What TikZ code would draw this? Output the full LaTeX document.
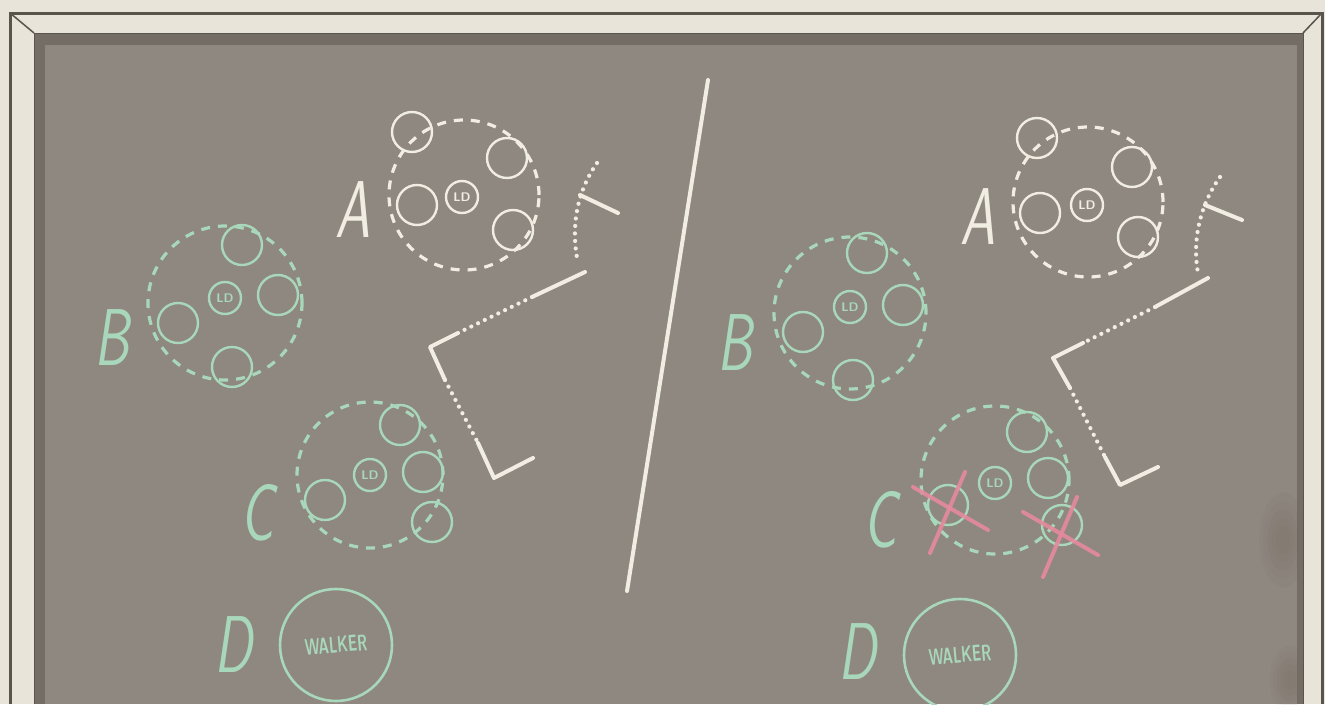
\documentclass[tikz,border=0pt]{standalone}
\usepackage{graphicx}
\usetikzlibrary{calc}
\definecolor{cream}{HTML}{E9E4DA}
\definecolor{framedark}{HTML}{59544C}
\definecolor{band}{HTML}{736D65}
\definecolor{board}{HTML}{8E8881}
\definecolor{chalkw}{HTML}{F1EDE3}
\definecolor{chalkg}{HTML}{A9D7BB}
\definecolor{chalkp}{HTML}{E68A9E}
\definecolor{smudge}{HTML}{6E5A48}
\newcommand\chalkletter[1]{\scalebox{0.9}[1.3]{\fontsize{62}{62}\selectfont\sffamily\slshape #1}}
\newcommand\walkertext{\rotatebox{5}{\scalebox{0.62}[1]{\fontsize{23}{23}\selectfont\sffamily\bfseries WALKER}}}
\begin{document}
\begin{tikzpicture}[x=1pt,y=-1pt,
  player/.style={circle, draw, line width=2.4pt, minimum size=40pt, inner sep=0pt},
  ldp/.style={circle, draw, line width=2.4pt, minimum size=32pt, inner sep=0pt,
    font=\sffamily\bfseries\fontsize{12.5}{12.5}\selectfont},
  grp/.style={circle, draw, line width=3.2pt, dash pattern=on 9pt off 8pt, minimum size=150pt, inner sep=0pt},
  walkernode/.style={circle, draw, line width=2.6pt, minimum size=112pt, inner sep=0pt},
  lettr/.style={inner sep=0pt},
  sroute/.style={chalkw, line width=4pt, line cap=round, line join=round},
  droute/.style={chalkw, line width=4.2pt, dash pattern=on 0pt off 7.5pt, line cap=round},
  xmark/.style={chalkp, line width=4pt, line cap=round, opacity=0.9}]
\useasboundingbox (0,0) rectangle (1325,704);
% frame
\fill[cream] (0,0) rectangle (1325,704);
\fill[band] (34,704) -- (34,33) -- (1303,33) -- (1303,704) -- cycle;
\fill[board] (45,45) rectangle (1297,704);
\draw[framedark, line width=3pt] (10,704) -- (10,13) -- (1322,13) -- (1322,704);
\draw[framedark, line width=1.5pt] (10,13) -- (34,33);
\draw[framedark, line width=1.5pt] (1322,13) -- (1303,33);
\draw[framedark, line width=1pt] (34,704) -- (34,33) -- (1303,33) -- (1303,704);
% smudges
\begin{scope}
\clip (45,45) rectangle (1297,704);
\foreach \r in {10,16,22,28,34}{
  \fill[smudge, opacity=0.05] (1283,540) ellipse ({\r*0.7} and {\r*1.4});
  \fill[smudge, opacity=0.05] (1290,680) ellipse ({\r*0.6} and {\r*1.0});
}
\end{scope}

% divider
\coordinate (dv1) at (708,80);
\coordinate (dv2) at (627,591);
\draw[chalkw, line width=4pt, line cap=round] (dv1) -- (dv2);

%%%%%%%%%% LEFT
\begin{scope}[chalkw]
\node[lettr, text=chalkw] (lA) at (353,210) {\chalkletter{A}};
\node[grp] (gA) at (464,195) {};
\node[player] (a1) at (412,132) {};
\node[player] (a2) at (507,158) {};
\node[player] (a3) at (417,205) {};
\node[ldp, text=chalkw] (ald) at (462,197) {LD};
\node[player] (a4) at (513,230) {};
\end{scope}
\begin{scope}[chalkg]
\node[lettr, text=chalkg] (lB) at (112,338) {\chalkletter{B}};
\node[grp, minimum size=154pt] (gB) at (225,303) {};
\node[player] (b1) at (242,245) {};
\node[player] (b2) at (278,295) {};
\node[ldp, text=chalkg] (bld) at (225,298) {LD};
\node[player] (b3) at (178,323) {};
\node[player] (b4) at (232,367) {};
\node[lettr, text=chalkg] (lC) at (257,513) {\chalkletter{C}};
\node[grp, minimum size=146pt] (gC) at (370,475) {};
\node[player] (c1) at (400,425) {};
\node[player] (c2) at (423,472) {};
\node[ldp, text=chalkg] (cld) at (370,475) {LD};
\node[player] (c3) at (325,500) {};
\node[player] (c4) at (432,522) {};
\node[lettr, text=chalkg] (lD) at (233,645) {\chalkletter{D}};
\node[walkernode, text=chalkg] (wk) at (336,645) {\walkertext};
\end{scope}
% left route
\coordinate (t1) at (597,163);
\coordinate (t2) at (578,263);
\coordinate (ts1) at (580,195);
\coordinate (ts2) at (618,213);
\coordinate (r1) at (585,272);
\coordinate (r2) at (532,297);
\coordinate (r3) at (458,333);
\coordinate (r4) at (430,347);
\coordinate (r5) at (445,380);
\coordinate (r6) at (478,443);
\coordinate (r7) at (494,478);
\coordinate (r8) at (533,458);
\draw[droute] (t1) .. controls (578,190) and (570,225) .. (t2);
\draw[sroute] (ts1) -- (ts2);
\draw[sroute] (r1) -- (r2);
\draw[droute] (r2) -- (r3);
\draw[sroute] (r3) -- (r4) -- (r5);
\draw[droute] (r5) -- (r6);
\draw[sroute] (r6) -- (r7) -- (r8);

%%%%%%%%%% RIGHT
\begin{scope}[chalkw]
\node[lettr, text=chalkw] (rA) at (978,217) {\chalkletter{A}};
\node[grp] (hA) at (1088,202) {};
\node[player] (p1) at (1037,138) {};
\node[player] (p2) at (1132,167) {};
\node[player] (p3) at (1040,213) {};
\node[ldp, text=chalkw] (pld) at (1087,205) {LD};
\node[player] (p4) at (1138,237) {};
\end{scope}
\begin{scope}[chalkg]
\node[lettr, text=chalkg] (rB) at (735,343) {\chalkletter{B}};
\node[grp, minimum size=152pt] (hB) at (850,313) {};
\node[player] (q1) at (867,253) {};
\node[player] (q2) at (903,305) {};
\node[ldp, text=chalkg] (qld) at (850,307) {LD};
\node[player] (q3) at (803,332) {};
\node[player] (q4) at (853,380) {};
\node[lettr, text=chalkg] (rC) at (880,520) {\chalkletter{C}};
\node[grp, minimum size=148pt] (hC) at (995,480) {};
\node[player] (s1) at (1027,432) {};
\node[player] (s2) at (1048,478) {};
\node[ldp, text=chalkg] (sld) at (995,483) {LD};
\node[player] (s3) at (948,505) {};
\node[player] (s4) at (1062,525) {};
\node[lettr, text=chalkg] (rD) at (857,652) {\chalkletter{D}};
\node[walkernode, text=chalkg] (wk2) at (960,655) {\walkertext};
\end{scope}
% crosses
\draw[xmark] ([shift={(-35,-18)}]s3.center) -- ([shift={(40,25)}]s3.center);
\draw[xmark] ([shift={(17,-33)}]s3.center) -- ([shift={(-18,48)}]s3.center);
\draw[xmark] ([shift={(-39,-13)}]s4.center) -- ([shift={(36,30)}]s4.center);
\draw[xmark] ([shift={(15,-28)}]s4.center) -- ([shift={(-19,52)}]s4.center);
% right route
\coordinate (u1) at (1220,177);
\coordinate (u2) at (1198,273);
\coordinate (us1) at (1205,205);
\coordinate (us2) at (1242,220);
\coordinate (v1) at (1208,278);
\coordinate (v2) at (1155,307);
\coordinate (v3) at (1083,343);
\coordinate (v4) at (1053,358);
\coordinate (v5) at (1070,388);
\coordinate (v6) at (1105,457);
\coordinate (v7) at (1120,485);
\coordinate (v8) at (1158,467);
\draw[droute] (u1) .. controls (1200,205) and (1192,240) .. (u2);
\draw[sroute] (us1) -- (us2);
\draw[sroute] (v1) -- (v2);
\draw[droute] (v2) -- (v3);
\draw[sroute] (v3) -- (v4) -- (v5);
\draw[droute] (v5) -- (v6);
\draw[sroute] (v6) -- (v7) -- (v8);
\end{tikzpicture}
\end{document}
